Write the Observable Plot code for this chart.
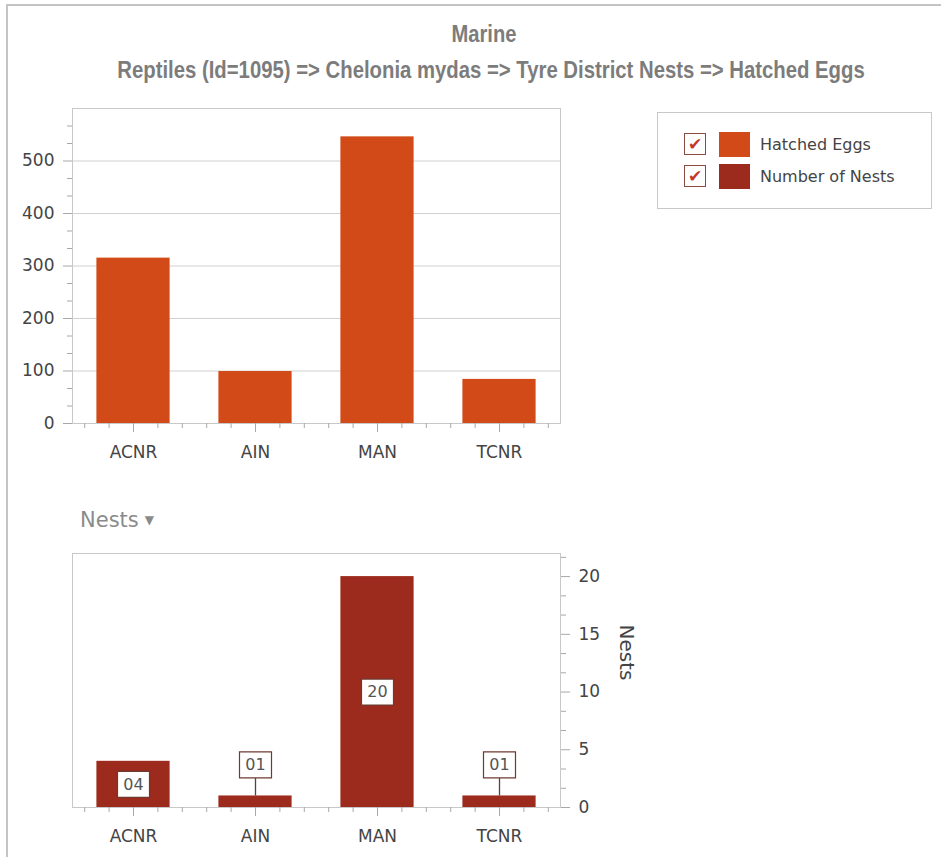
<!DOCTYPE html>
<html>
<head>
<meta charset="utf-8">
<script src="https://cdn.jsdelivr.net/npm/d3@7"></script>
<script src="https://cdn.jsdelivr.net/npm/@observablehq/plot@0.6"></script>
<style>
  body { margin: 0; background: #fff; }
  #page { position: relative; width: 941px; height: 857px; overflow: hidden; font-family: "DejaVu Sans", sans-serif; background:#fff; }
  #border { position: absolute; left: 6px; top: 4px; width: 960px; height: 900px; border-top: 2px solid #c4c4c4; border-left: 2px solid #c4c4c4; }
  #header { position: absolute; left: 0; top: 0; }
  #topChart { position: absolute; left: 0; top: 100px; }
  #botChart { position: absolute; left: 0; top: 545px; }
  #legend { position: absolute; left: 657px; top: 112px; width: 273px; height: 95px; border: 1px solid #c8c8c8; background: #fff; }
  .lrow { position: absolute; left: 26px; height: 24px; display: flex; align-items: center; }
  .cb { width: 22px; height: 22px; box-sizing: border-box; border: 1px solid #8a4a3e; display: flex; align-items: center; justify-content: center; color: #c0392b; font-size: 17px; line-height: 1; background: #fff; }
  .sw { width: 31px; height: 25px; margin-left: 13px; }
  .lt { margin-left: 10px; font-size: 16px; color: #444; white-space: nowrap; }
  #nestsTitle { position: absolute; left: 80px; top: 508px; font-size: 21px; color: #8a8a8a; white-space: nowrap; }
  #nestsTitle span { font-size: 12px; position: relative; top: -3px; margin-left: 6px; }
</style>
</head>
<body>
<div id="page">
  <div id="border"></div>
  <svg id="header" width="941" height="100"></svg>
  <div id="topChart"></div>
  <div id="legend"></div>
  <div id="nestsTitle">Nests<span>▼</span></div>
  <div id="botChart"></div>
</div>
<script>
// ---- data ----
const categories = ["ACNR", "AIN", "MAN", "TCNR"];
const hatchedEggs = [315, 99, 546, 84];
const numberOfNests = [4, 1, 20, 1];
const eggTicks = [0, 100, 200, 300, 400, 500];
const nestTicks = [0, 5, 10, 15, 20];
const titleText = "Marine";
const subtitleText = "Reptiles (Id=1095) => Chelonia mydas => Tyre District Nests => Hatched Eggs";
const seriesNames = ["Hatched Eggs", "Number of Nests"];
const nestsAxisLabel = "Nests";

const eggColor = "#d24a17";
const nestColor = "#9c2a1d";
const axisColor = "#a8a8a8";
const frameColor = "#c8c8c8";
const textColor = "#444";

// ---- header (condensed by horizontal scaling so the box stays accurate) ----
const header = d3.select("#header");
function condensedText(txt, cx, baseline, targetWidth) {
  const t = header.append("text")
    .attr("x", 0).attr("y", 0).attr("text-anchor", "middle")
    .attr("font-family", "'Liberation Sans Narrow','Liberation Sans',sans-serif")
    .attr("font-weight", "bold").attr("font-size", 23).attr("fill", "#7c7c7c")
    .text(txt);
  const w = t.node().getComputedTextLength() || targetWidth;
  t.attr("transform", `translate(${cx},${baseline}) scale(${targetWidth / w},1)`);
}
condensedText(titleText, 484, 42, 65);
condensedText(subtitleText, 491, 78, 748);

// ---- legend ----
const legend = d3.select("#legend");
[eggColor, nestColor].forEach((c, k) => {
  const row = legend.append("div").attr("class", "lrow").style("top", (19 + k * 32) + "px");
  row.append("div").attr("class", "cb").text("✔");
  row.append("div").attr("class", "sw").style("background", c);
  row.append("div").attr("class", "lt").text(seriesNames[k]);
});

// ---- shared ----
const idx = d3.range(categories.length);
const catFormat = i => categories[i] ?? "";
const minorX = idx.flatMap(i => [-0.4, -0.2, 0.2, 0.4].map(k => i + k));
const halfBar = 0.3;
const style = { fontFamily: "DejaVu Sans, sans-serif", fontSize: "17px", color: textColor, background: "transparent", overflow: "visible" };

// ---- top chart ----
const eggData = idx.map(i => ({ i, v: hatchedEggs[i] }));
const eggMinor = d3.range(0, 600, 100 / 3).filter(v => !eggTicks.some(t => Math.abs(t - v) < 1e-6));
const topPlot = Plot.plot({
  width: 600, height: 370,
  marginLeft: 72, marginRight: 40, marginTop: 8, marginBottom: 47,
  style,
  x: { type: "linear", domain: [-0.5, categories.length - 0.5] },
  y: { domain: [0, 600] },
  marks: [
    Plot.gridY(eggTicks.filter(t => t > 0), { stroke: "#d0d0d0", strokeOpacity: 1 }),
    Plot.rectY(eggData, { x1: d => d.i - halfBar, x2: d => d.i + halfBar, y1: 0, y2: "v", fill: eggColor }),
    Plot.frame({ stroke: frameColor }),
    Plot.axisY(eggTicks, { anchor: "left", tickSize: 9, tickPadding: 9, stroke: axisColor, label: null, fill: textColor }),
    Plot.axisY(eggMinor, { anchor: "left", tickSize: 5, stroke: axisColor, tickFormat: () => "", label: null }),
    Plot.axisX(idx, { anchor: "bottom", tickSize: 9, tickPadding: 13, stroke: axisColor, tickFormat: catFormat, label: null, fill: textColor }),
    Plot.axisX(minorX, { anchor: "bottom", tickSize: 5, stroke: axisColor, tickFormat: () => "", label: null })
  ]
});
document.getElementById("topChart").append(topPlot);

// ---- bottom chart ----
const nestDomainMax = 22;
const botHeight = 312, botTop = 8, botBottom = 50;
const pxPerUnit = (botHeight - botTop - botBottom) / nestDomainMax;
const boxW = 32, boxH = 26;
const nestData = idx.map(i => ({ i, v: numberOfNests[i] }));
nestData.forEach(d => {
  d.inside = d.v * pxPerUnit > boxH + 8;
  d.ly = d.inside ? d.v / 2 : d.v + 31 / pxPerUnit;
});
const outside = nestData.filter(d => !d.inside);
const nestMinor = d3.range(0, nestDomainMax, 5 / 3).filter(v => !nestTicks.some(t => Math.abs(t - v) < 1e-6));
const boxSymbol = { draw(context) { context.rect(-boxW / 2, -boxH / 2, boxW, boxH); } };
const fmt2 = d3.format("02d");

const botPlot = Plot.plot({
  width: 660, height: botHeight,
  marginLeft: 72, marginRight: 100, marginTop: botTop, marginBottom: botBottom,
  style,
  x: { type: "linear", domain: [-0.5, categories.length - 0.5] },
  y: { domain: [0, nestDomainMax] },
  marks: [
    Plot.rectY(nestData, { x1: d => d.i - halfBar, x2: d => d.i + halfBar, y1: 0, y2: "v", fill: nestColor }),
    Plot.frame({ stroke: frameColor }),
    Plot.axisY(nestTicks, { anchor: "right", tickSize: 9, tickPadding: 9, stroke: axisColor, label: null, fill: textColor }),
    Plot.axisY(nestMinor, { anchor: "right", tickSize: 5, stroke: axisColor, tickFormat: () => "", label: null }),
    Plot.axisX(idx, { anchor: "bottom", tickSize: 9, tickPadding: 13, stroke: axisColor, tickFormat: catFormat, label: null, fill: textColor }),
    Plot.axisX(minorX, { anchor: "bottom", tickSize: 5, stroke: axisColor, tickFormat: () => "", label: null }),
    Plot.ruleX(outside, { x: "i", y1: "v", y2: d => d.ly, stroke: "#5e4038", strokeWidth: 1.3 }),
    Plot.dot(nestData, { x: "i", y: "ly", symbol: boxSymbol, r: 10, fill: "white", stroke: "#6e3a30", strokeWidth: 1.2 }),
    Plot.text(nestData, { x: "i", y: "ly", text: d => fmt2(d.v), fill: "#555", fontSize: 16, fontFamily: "DejaVu Sans, sans-serif" }),
    Plot.text([nestsAxisLabel], { frameAnchor: "right", dx: 66, rotate: 90, text: d => d, fontSize: 20, fill: "#444" })
  ]
});
document.getElementById("botChart").append(botPlot);
</script>
</body>
</html>
